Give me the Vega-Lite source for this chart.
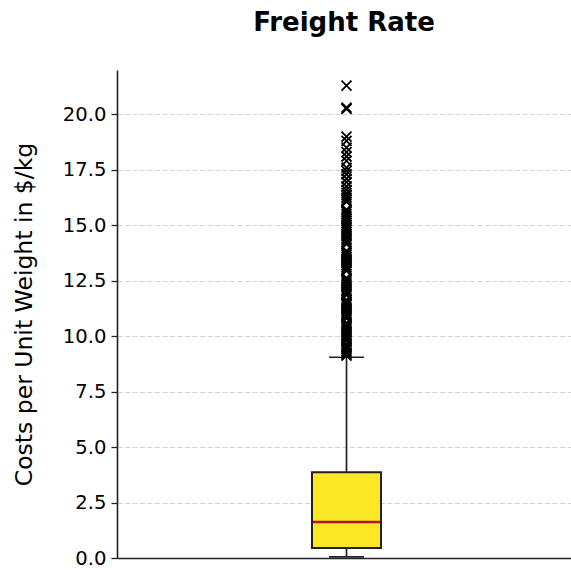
{
  "$schema": "https://vega.github.io/schema/vega-lite/v6.json",
  "width": 454,
  "height": 488,
  "autosize": {"type": "none"},
  "padding": {"left": 117, "top": 70, "right": 0, "bottom": 12},
  "background": "white",
  "config": {
    "view": {"stroke": null},
    "font": "DejaVu Sans",
    "axisY": {
      "grid": true,
      "gridDash": [5, 2.5],
      "gridColor": "#d3d3d3",
      "gridWidth": 1,
      "tickSize": 6,
      "tickColor": "#222222",
      "tickWidth": 1.3,
      "labelFontSize": 19.6,
      "labelColor": "black",
      "labelFont": "DejaVu Sans",
      "labelPadding": 5,
      "titleFontSize": 23.5,
      "titleFontWeight": "normal",
      "titleColor": "black",
      "titleFont": "DejaVu Sans",
      "titlePadding": 26,
      "domainColor": "#222222",
      "domainWidth": 1.6
    }
  },
  "title": {"text": "Freight Rate", "fontSize": 26, "fontWeight": "bold", "font": "DejaVu Sans", "color": "black", "offset": 34, "anchor": "middle"},
  "datasets": {
    "stats": [{"group": "Freight Rate", "lower": 0.05, "q1": 0.45, "median": 1.62, "q3": 3.87, "upper": 9.05}],
    "outliers": [
      {"value": 9.12}, {"value": 9.18}, {"value": 9.25}, {"value": 9.33}, {"value": 9.41}, {"value": 9.47}, {"value": 9.55}, {"value": 9.63},
      {"value": 9.78}, {"value": 9.86}, {"value": 9.93}, {"value": 10.02}, {"value": 10.1}, {"value": 10.18}, {"value": 10.27}, {"value": 10.35},
      {"value": 10.44}, {"value": 10.52}, {"value": 10.6}, {"value": 10.8}, {"value": 10.88}, {"value": 10.96}, {"value": 11.05}, {"value": 11.13},
      {"value": 11.22}, {"value": 11.3}, {"value": 11.4}, {"value": 11.48}, {"value": 11.56}, {"value": 11.64}, {"value": 11.85}, {"value": 11.93},
      {"value": 12.02}, {"value": 12.1}, {"value": 12.2}, {"value": 12.3}, {"value": 12.38}, {"value": 12.47}, {"value": 12.55}, {"value": 12.63},
      {"value": 12.95}, {"value": 13.03}, {"value": 13.12}, {"value": 13.2}, {"value": 13.3}, {"value": 13.4}, {"value": 13.48}, {"value": 13.57},
      {"value": 13.65}, {"value": 13.75}, {"value": 13.85}, {"value": 14.15}, {"value": 14.23}, {"value": 14.32}, {"value": 14.4}, {"value": 14.5},
      {"value": 14.6}, {"value": 14.7}, {"value": 14.8}, {"value": 14.9}, {"value": 15.0}, {"value": 15.1}, {"value": 15.2}, {"value": 15.3},
      {"value": 15.4}, {"value": 15.5}, {"value": 15.6}, {"value": 15.7}, {"value": 16.05}, {"value": 16.15}, {"value": 16.25}, {"value": 16.35},
      {"value": 16.45}, {"value": 16.6}, {"value": 16.75}, {"value": 16.95}, {"value": 17.1}, {"value": 17.3}, {"value": 17.45}, {"value": 17.6},
      {"value": 17.9}, {"value": 18.1}, {"value": 18.3}, {"value": 18.5}, {"value": 18.8}, {"value": 19.0}, {"value": 20.25}, {"value": 20.3},
      {"value": 21.3}
    ]
  },
  "layer": [
    {
      "data": {"name": "stats"},
      "mark": {"type": "rule", "color": "#222222", "strokeWidth": 1.7},
      "encoding": {
        "x": {"field": "group", "type": "nominal", "scale": {"range": [0, 459], "paddingInner": 0, "paddingOuter": 0},
              "axis": {"title": null, "labels": false, "ticks": false, "domain": true, "domainColor": "#222222", "domainWidth": 1.6, "grid": false}},
        "y": {"field": "lower", "type": "quantitative", "title": "Costs per Unit Weight in $/kg",
              "scale": {"domain": [0, 22], "nice": false, "zero": true},
              "axis": {"values": [0, 2.5, 5, 7.5, 10, 12.5, 15, 17.5, 20], "format": ".1f"}},
        "y2": {"field": "upper"}
      }
    },
    {
      "data": {"name": "stats"},
      "mark": {"type": "bar", "size": 69, "fill": "#fde725", "stroke": "#222222", "strokeWidth": 2},
      "encoding": {
        "x": {"field": "group", "type": "nominal"},
        "y": {"field": "q1", "type": "quantitative", "title": "Costs per Unit Weight in $/kg"},
        "y2": {"field": "q3"}
      }
    },
    {
      "data": {"name": "stats"},
      "mark": {"type": "tick", "size": 67, "thickness": 2.5, "color": "#b0141c", "opacity": 1},
      "encoding": {
        "x": {"field": "group", "type": "nominal"},
        "y": {"field": "median", "type": "quantitative", "title": "Costs per Unit Weight in $/kg"}
      }
    },
    {
      "data": {"name": "stats"},
      "mark": {"type": "tick", "size": 35, "thickness": 1.7, "color": "#222222", "opacity": 1},
      "encoding": {
        "x": {"field": "group", "type": "nominal"},
        "y": {"field": "lower", "type": "quantitative", "title": "Costs per Unit Weight in $/kg"}
      }
    },
    {
      "data": {"name": "stats"},
      "mark": {"type": "tick", "size": 35, "thickness": 1.7, "color": "#222222", "opacity": 1},
      "encoding": {
        "x": {"field": "group", "type": "nominal"},
        "y": {"field": "upper", "type": "quantitative", "title": "Costs per Unit Weight in $/kg"}
      }
    },
    {
      "data": {"name": "outliers"},
      "mark": {"type": "point", "shape": "M-1,-1L1,1M-1,1L1,-1", "size": 100, "filled": false, "stroke": "black", "strokeWidth": 1.8, "opacity": 1},
      "encoding": {
        "x": {"datum": "Freight Rate", "type": "nominal"},
        "y": {"field": "value", "type": "quantitative", "title": "Costs per Unit Weight in $/kg"}
      }
    },
    {
      "mark": {"type": "rule", "color": "#222222", "strokeWidth": 1.6},
      "encoding": {
        "y": {"datum": 22, "type": "quantitative"}
      }
    }
  ]
}
